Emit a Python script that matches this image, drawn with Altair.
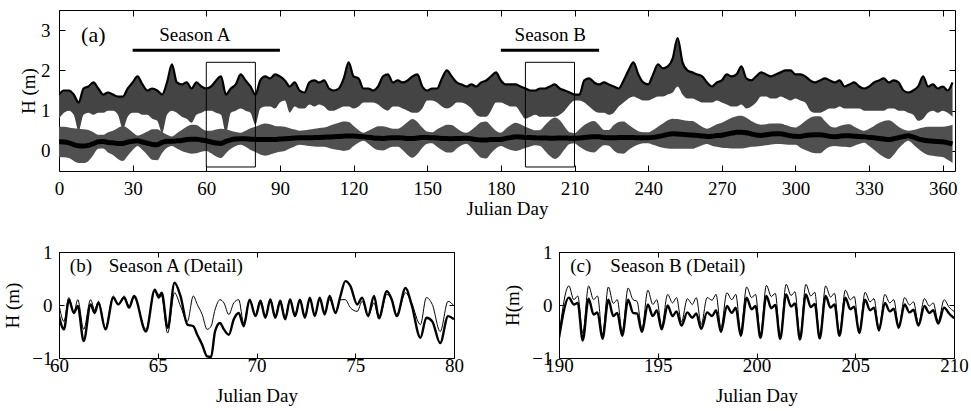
import altair as alt
import pandas as pd

FONT = "Liberation Serif"
WAVE_FILL = "#444444"
TIDE_FILL = "#505050"

# ---------------- panel (a): whole year, 2-day envelope readings ----------------
top_days = list(range(0, 366, 2))

wave_hi = [1.40, 1.50, 1.50, 1.40, 1.20, 1.55, 1.60, 1.70, 1.55, 1.40,
           1.45, 1.40, 1.35, 1.35, 1.55, 1.70, 1.85, 1.65, 1.50, 1.55,
           1.50, 1.40, 1.70, 2.15, 1.70, 1.65, 1.70, 1.55, 1.70, 1.60,
           1.55, 1.60, 1.75, 1.85, 1.40, 1.55, 1.65, 1.90, 1.75, 1.60,
           1.40, 1.75, 1.85, 1.80, 1.90, 1.85, 1.75, 1.60, 1.70, 1.50,
           1.45, 1.70, 1.75, 1.70, 1.75, 1.55, 1.50, 1.55, 1.80, 2.20,
           1.85, 1.80, 1.55, 1.55, 1.50, 1.60, 1.85, 1.90, 1.70, 1.75,
           1.70, 1.75, 1.85, 1.90, 1.60, 1.50, 1.55, 1.55, 1.80, 2.00,
           1.85, 1.70, 1.65, 1.60, 1.65, 1.60, 1.70, 1.75, 1.85, 1.95,
           1.75, 1.65, 1.65, 1.65, 1.60, 1.55, 1.50, 1.50, 1.55, 1.55,
           1.60, 1.65, 1.55, 1.50, 1.45, 1.40, 1.40, 1.75, 1.80, 1.70,
           1.65, 1.70, 1.65, 1.60, 1.55, 1.75, 2.00, 2.20, 1.90, 1.70,
           1.65, 1.90, 2.15, 2.05, 2.10, 2.30, 2.80, 2.20, 2.00, 1.95,
           1.90, 1.85, 1.70, 1.60, 1.70, 1.75, 1.90, 1.85, 1.90, 2.10,
           1.80, 1.75, 1.85, 1.95, 1.90, 1.85, 1.90, 1.95, 2.00, 2.00,
           1.90, 1.90, 1.85, 1.75, 1.70, 1.75, 1.80, 1.75, 1.70, 1.75,
           1.60, 1.65, 1.70, 1.60, 1.55, 1.60, 1.70, 1.75, 1.80, 1.70,
           1.75, 1.70, 1.50, 1.45, 1.50, 1.60, 1.85, 1.60, 1.65, 1.55,
           1.60, 1.50, 1.70]

wave_lo = [0.80, 0.95, 1.00, 0.90, 0.50, 0.90, 0.95, 0.90, 0.95, 0.95,
           1.00, 1.00, 0.90, 0.55, 0.85, 0.95, 0.95, 0.90, 0.90, 0.80,
           0.75, 0.45, 0.90, 1.00, 0.95, 0.85, 0.80, 0.70, 0.90, 0.95,
           1.00, 1.00, 0.95, 0.90, 0.45, 0.95, 1.00, 1.05, 1.00, 0.95,
           0.65, 1.05, 1.10, 1.10, 1.05, 1.20, 1.25, 0.95, 1.10, 1.05,
           1.05, 1.15, 1.10, 1.15, 1.10, 1.00, 1.00, 1.05, 1.10, 1.10,
           1.05, 1.10, 1.20, 1.20, 1.20, 1.15, 1.05, 1.00, 1.10, 1.10,
           1.05, 1.00, 0.95, 0.95, 1.05, 1.25, 1.25, 1.20, 1.10, 1.05,
           1.10, 1.20, 1.20, 1.15, 1.05, 0.90, 0.85, 0.85, 1.00, 1.20,
           1.20, 1.15, 1.10, 1.10, 0.95, 0.80, 0.85, 0.90, 0.85, 0.85,
           0.85, 0.85, 0.90, 1.00, 1.15, 1.25, 1.25, 1.20, 1.10, 1.00,
           0.95, 0.95, 0.90, 0.95, 1.10, 1.20, 1.30, 1.35, 1.30, 1.25,
           1.25, 1.30, 1.35, 1.35, 1.40, 1.45, 1.60, 1.40, 1.30, 1.30,
           1.25, 1.20, 1.20, 1.20, 1.25, 1.20, 1.15, 1.10, 1.10, 1.15,
           1.05, 1.10, 1.20, 1.35, 1.35, 1.30, 1.30, 1.35, 1.30, 1.25,
           1.30, 1.25, 1.20, 1.00, 0.95, 0.95, 1.00, 1.05, 1.05, 1.10,
           1.05, 1.05, 1.05, 1.05, 1.00, 1.00, 1.00, 1.00, 1.00, 1.05,
           1.05, 1.00, 1.00, 0.95, 0.90, 0.75, 0.80, 0.95, 1.00, 0.95,
           1.00, 0.95, 0.85]

tide_hi = [0.60, 0.60, 0.58, 0.56, 0.55, 0.54, 0.52, 0.46, 0.40, 0.40,
           0.46, 0.50, 0.57, 0.62, 0.56, 0.46, 0.38, 0.42, 0.48, 0.54,
           0.54, 0.47, 0.40, 0.36, 0.44, 0.52, 0.60, 0.65, 0.64, 0.56,
           0.50, 0.50, 0.53, 0.55, 0.53, 0.50, 0.47, 0.45, 0.50, 0.56,
           0.60, 0.65, 0.68, 0.66, 0.62, 0.61, 0.60, 0.56, 0.53, 0.50,
           0.51, 0.53, 0.55, 0.57, 0.58, 0.62, 0.66, 0.70, 0.73, 0.72,
           0.62, 0.52, 0.45, 0.50, 0.56, 0.61, 0.61, 0.58, 0.55, 0.55,
           0.62, 0.72, 0.79, 0.72, 0.58, 0.48, 0.46, 0.54, 0.60, 0.65,
           0.64, 0.56, 0.48, 0.45, 0.52, 0.62, 0.71, 0.73, 0.62, 0.50,
           0.45, 0.55, 0.64, 0.70, 0.66, 0.60, 0.55, 0.51, 0.52, 0.64,
           0.76, 0.83, 0.76, 0.60, 0.46, 0.44, 0.54, 0.64, 0.71, 0.74,
           0.64, 0.52, 0.52, 0.64, 0.72, 0.73, 0.65, 0.56, 0.49, 0.46,
           0.46, 0.52, 0.60, 0.68, 0.76, 0.80, 0.79, 0.77, 0.75, 0.74,
           0.68, 0.60, 0.55, 0.60, 0.66, 0.70, 0.76, 0.82, 0.86, 0.87,
           0.82, 0.74, 0.68, 0.65, 0.66, 0.68, 0.68, 0.68, 0.64, 0.60,
           0.58, 0.64, 0.74, 0.82, 0.86, 0.86, 0.74, 0.62, 0.58, 0.62,
           0.65, 0.66, 0.60, 0.54, 0.50, 0.55, 0.62, 0.69, 0.74, 0.76,
           0.70, 0.60, 0.53, 0.50, 0.52, 0.55, 0.58, 0.60, 0.60, 0.60,
           0.60, 0.62, 0.65]

tide_lo = [-0.15, -0.16, -0.18, -0.25, -0.30, -0.30, -0.25, -0.10, 0.05, 0.06,
           -0.04, -0.10, -0.20, -0.25, -0.12, 0.02, 0.12, 0.02, -0.10, -0.22,
           -0.23, -0.05, 0.08, 0.12, 0.06, 0.00, -0.04, -0.07, -0.06, -0.02,
           0.00, -0.06, -0.14, -0.18, -0.06, 0.05, 0.12, 0.15, 0.10, 0.02,
           -0.03, -0.09, -0.12, -0.09, -0.05, -0.02, 0.00, 0.06, 0.11, 0.15,
           0.14, 0.12, 0.11, 0.10, 0.10, 0.07, 0.04, 0.02, 0.00, 0.02,
           0.12, 0.20, 0.25, 0.18, 0.08, 0.02, 0.01, 0.06, 0.10, 0.10,
           0.02, -0.10, -0.17, -0.08, 0.08, 0.18, 0.19, 0.10, 0.02, -0.04,
           -0.04, 0.06, 0.14, 0.18, 0.08, -0.06, -0.17, -0.19, -0.06, 0.06,
           0.12, 0.07, 0.02, 0.00, 0.03, 0.07, 0.11, 0.14, 0.12, 0.00,
           -0.13, -0.20, -0.12, 0.04, 0.17, 0.19, 0.10, 0.03, -0.02, -0.04,
           0.06, 0.14, 0.13, 0.01, -0.06, -0.07, 0.02, 0.10, 0.16, 0.19,
           0.19, 0.15, 0.11, 0.08, 0.06, 0.05, 0.05, 0.05, 0.05, 0.05,
           0.09, 0.14, 0.17, 0.13, 0.10, 0.08, 0.07, 0.06, 0.06, 0.06,
           0.08, 0.10, 0.11, 0.12, 0.14, 0.16, 0.17, 0.17, 0.16, 0.15,
           0.15, 0.08, 0.02, -0.03, -0.06, -0.06, 0.03, 0.10, 0.12, 0.11,
           0.10, 0.09, 0.13, 0.17, 0.20, 0.12, 0.03, -0.07, -0.15, -0.20,
           -0.10, 0.06, 0.18, 0.25, 0.16, 0.05, -0.04, -0.10, -0.12, -0.14,
           -0.15, -0.22, -0.30]

top_xticks = [0, 30, 60, 90, 120, 150, 180, 210, 240, 270, 300, 330, 360]
top_yticks = [0, 1, 2, 3]

season_names = ["Season A", "Season B"]
season_start = [30, 180]
season_end = [90, 220]
season_label_day = [55.3, 200.1]
season_bar_level = [2.5, 2.5]
season_label_level = [2.88, 2.88]

box_start = [60, 190]
box_end = [80, 210]
box_bottom = [-0.4, -0.4]
box_top = [2.2, 2.2]

tag_a = ["(a)"]
tag_a_day = [9.0]
tag_a_level = [2.88]

# ---------------- panel (b): Season A detail ----------------
b_days = [60.0, 60.25, 60.5, 60.75, 60.95, 61.25, 61.6, 61.8, 62.0, 62.35,
          62.75, 63.0, 63.3, 63.55, 63.8, 64.4, 64.85, 65.05, 65.2, 65.5,
          65.85, 66.15, 66.5, 66.8, 67.0, 67.25, 67.5, 67.7, 67.9, 68.15,
          68.35, 68.6, 68.85, 69.1, 69.35, 69.65, 69.95, 70.2, 70.45, 70.7,
          70.95, 71.2, 71.45, 71.7, 71.95, 72.2, 72.45, 72.7, 72.95, 73.2,
          73.45, 73.7, 74.0, 74.25, 74.5, 74.75, 75.1, 75.35, 75.65, 75.95,
          76.2, 76.6, 76.85, 77.1, 77.55, 77.85, 78.3, 78.6, 78.9, 79.3,
          79.7, 80.0]
b_thick = [-0.21, -0.46, 0.10, -0.15, -0.02, -0.68, 0.01, -0.15, 0.04, -0.46,
           0.14, 0.01, 0.14, -0.05, 0.17, -0.50, 0.29, 0.14, 0.23, -0.43,
           0.42, 0.17, -0.37, -0.40, -0.56, -0.75, -0.97, -0.98, -0.50, -0.34,
           -0.46, -0.56, -0.27, -0.15, -0.40, 0.10, -0.21, 0.07, -0.24, 0.10,
           -0.24, 0.07, -0.27, 0.10, -0.21, 0.10, -0.24, 0.14, -0.21, 0.14,
           -0.18, 0.17, -0.15, 0.17, 0.45, 0.36, 0.01, 0.14, -0.21, 0.17,
           -0.24, 0.26, 0.10, -0.21, 0.32, 0.01, -0.62, -0.24, -0.31, -0.72,
           -0.21, -0.27]
b_thin = [0.01, -0.31, 0.14, -0.15, 0.10, -0.46, 0.10, -0.09, 0.07, -0.43,
          0.17, 0.01, 0.17, -0.02, 0.14, -0.46, 0.26, 0.20, 0.17, -0.53,
          0.23, -0.02, -0.31, 0.17, 0.01, -0.18, -0.46, -0.40, -0.09, 0.10,
          0.04, -0.18, 0.04, 0.10, -0.34, 0.10, -0.18, 0.10, -0.21, 0.12,
          -0.21, 0.10, -0.24, 0.12, -0.18, 0.10, -0.21, 0.10, -0.18, 0.10,
          -0.15, 0.10, -0.12, 0.10, 0.10, -0.05, -0.12, 0.07, -0.21, 0.04,
          -0.27, 0.20, 0.10, -0.18, 0.23, 0.04, -0.37, 0.14, 0.01, -0.50,
          0.07, -0.02]

# ---------------- panel (c): Season B detail ----------------
c_days = [190.0,
          190.5, 190.75, 190.95, 191.2, 191.5, 191.75, 191.95, 192.2,
          192.5, 192.75, 192.95, 193.2, 193.5, 193.75, 193.95, 194.2,
          194.5, 194.75, 194.95, 195.2, 195.5, 195.75, 195.95, 196.2,
          196.5, 196.75, 196.95, 197.2, 197.5, 197.75, 197.95, 198.2,
          198.5, 198.75, 198.95, 199.2, 199.5, 199.75, 199.95, 200.2,
          200.5, 200.75, 200.95, 201.2, 201.5, 201.75, 201.95, 202.2,
          202.5, 202.75, 202.95, 203.2, 203.5, 203.75, 203.95, 204.2,
          204.5, 204.75, 204.95, 205.2, 205.5, 205.75, 205.95, 206.2,
          206.5, 206.75, 206.95, 207.2, 207.5, 207.75, 207.95, 208.2,
          208.5, 208.75, 208.95, 209.2, 209.5, 209.75, 210.0]
c_thin = [-0.57,
          0.36, 0.10, 0.17, -0.53, 0.36, 0.10, 0.17, -0.56,
          0.34, 0.03, 0.10, -0.50, 0.32, 0.10, 0.07, -0.45,
          0.28, 0.01, 0.10, -0.40, 0.20, 0.04, 0.14, -0.32,
          0.12, 0.01, 0.14, -0.37, 0.14, 0.09, 0.20, -0.43,
          0.23, 0.10, 0.20, -0.50, 0.34, 0.14, 0.20, -0.58,
          0.37, 0.16, 0.22, -0.60, 0.39, 0.18, 0.25, -0.62,
          0.39, 0.17, 0.24, -0.60, 0.36, 0.15, 0.22, -0.54,
          0.28, 0.10, 0.16, -0.50, 0.24, 0.06, 0.12, -0.45,
          0.20, 0.04, 0.10, -0.40, 0.14, 0.00, 0.06, -0.35,
          0.12, -0.02, 0.04, -0.31, 0.10, -0.04, -0.12]
c_thick = [-0.62,
           0.14, 0.01, 0.04, -0.67, 0.12, -0.18, -0.14, -0.64,
           0.10, -0.21, -0.15, -0.58, 0.10, -0.15, -0.16, -0.51,
           0.01, -0.21, -0.10, -0.46, -0.01, -0.21, -0.12, -0.39,
           -0.14, -0.24, -0.16, -0.45, -0.14, -0.21, -0.10, -0.51,
           -0.02, -0.15, -0.05, -0.58, 0.14, -0.08, -0.02, -0.62,
           0.17, -0.06, 0.00, -0.64, 0.20, -0.03, 0.03, -0.65,
           0.20, -0.04, 0.02, -0.63, 0.17, -0.05, 0.01, -0.58,
           0.14, -0.08, -0.03, -0.53, 0.10, -0.10, -0.05, -0.48,
           0.04, -0.12, -0.07, -0.43, 0.01, -0.14, -0.09, -0.39,
           -0.02, -0.15, -0.10, -0.35, -0.05, -0.16, -0.25]

detail_tags = ["(b)", "(c)"]
detail_tag_day = [60.55, 190.57]
detail_titles = ["Season A (Detail)", "Season B (Detail)"]
detail_title_day = [62.52, 192.6]
detail_text_level = 0.735
detail_yticks = [-1.0, 0.0, 1.0]
b_xticks = [60, 65, 70, 75, 80]
c_xticks = [190, 195, 200, 205, 210]


def axes(xticks, yticks, xtitle, ytitle, tick, xlabpad, xtitlepad, ylabpad, ytitlepad):
    bottom = alt.Axis(orient="bottom", values=xticks, title=xtitle, tickSize=tick,
                      offset=-tick, labelPadding=xlabpad, titlePadding=xtitlepad,
                      format="d", labelOverlap=False, labelFlush=False)
    left = alt.Axis(orient="left", values=yticks, title=ytitle, tickSize=tick,
                    offset=-tick, labelPadding=ylabpad, titlePadding=ytitlepad,
                    labelExpr="format(datum.value, 'd')",
                    labelOverlap=False, labelFlush=False, labelBound=False)
    top = alt.Axis(orient="top", values=xticks, labels=False, title=None,
                   tickSize=tick, offset=-tick)
    right = alt.Axis(orient="right", values=yticks, labels=False, title=None,
                     tickSize=tick, offset=-tick)
    return bottom, left, top, right


# ---------------- build panel (a) ----------------
top_df = pd.DataFrame({"day": top_days, "wave_lo": wave_lo, "wave_hi": wave_hi,
                       "tide_lo": tide_lo, "tide_hi": tide_hi})
top_df["tide_mid"] = (top_df["tide_lo"] + top_df["tide_hi"]) / 2

xs = alt.Scale(domain=[0, 365], nice=False, zero=False)
ys = alt.Scale(domain=[-0.5, 3.5], nice=False, zero=False)
ab, al, at, ar = axes(top_xticks, top_yticks, "Julian Day", "H (m)", 6, 8, 1, 9, 2)

base = alt.Chart(top_df)
wave_band = base.mark_area(color=WAVE_FILL, clip=True, interpolate="monotone").encode(
    x=alt.X("day:Q", scale=xs, axis=ab),
    y=alt.Y("wave_lo:Q", scale=ys, axis=al),
    y2="wave_hi:Q")
tide_band = base.mark_area(color=TIDE_FILL, clip=True, interpolate="monotone").encode(
    x=alt.X("day:Q", scale=xs, axis=None),
    y=alt.Y("tide_lo:Q", scale=ys, axis=None),
    y2="tide_hi:Q")
wave_edge = base.mark_line(color="black", strokeWidth=2.2, clip=True,
                           interpolate="monotone").encode(
    x=alt.X("day:Q", scale=xs, axis=None),
    y=alt.Y("wave_hi:Q", scale=ys, axis=None))
tide_core = base.mark_line(color="black", strokeWidth=5, clip=True,
                           interpolate="monotone").encode(
    x=alt.X("day:Q", scale=xs, axis=at),
    y=alt.Y("tide_mid:Q", scale=ys, axis=ar))

box_df = pd.DataFrame({"x0": box_start, "x1": box_end, "y0": box_bottom, "y1": box_top})
boxes = alt.Chart(box_df).mark_rect(fillOpacity=0, stroke="black", strokeWidth=1).encode(
    x=alt.X("x0:Q", scale=xs, axis=None), x2="x1:Q",
    y=alt.Y("y0:Q", scale=ys, axis=None), y2="y1:Q")

season_df = pd.DataFrame({"name": season_names, "start": season_start, "end": season_end,
                          "bar": season_bar_level, "lab_day": season_label_day,
                          "lab_y": season_label_level})
season_bars = alt.Chart(season_df).mark_rule(color="black", strokeWidth=3).encode(
    x=alt.X("start:Q", scale=xs, axis=None), x2="end:Q",
    y=alt.Y("bar:Q", scale=ys, axis=None))
season_text = alt.Chart(season_df).mark_text(font=FONT, fontSize=19, color="black",
                                             align="center", baseline="middle").encode(
    x=alt.X("lab_day:Q", scale=xs, axis=None),
    y=alt.Y("lab_y:Q", scale=ys, axis=None), text="name:N")

tag_df = pd.DataFrame({"t": tag_a, "d": tag_a_day, "v": tag_a_level})
tag_text = alt.Chart(tag_df).mark_text(font=FONT, fontSize=22, color="black",
                                       align="left", baseline="middle").encode(
    x=alt.X("d:Q", scale=xs, axis=None), y=alt.Y("v:Q", scale=ys, axis=None), text="t:N")

top = alt.layer(wave_band, tide_band, wave_edge, tide_core, boxes, season_bars,
                season_text, tag_text).resolve_axis(x="independent", y="independent").properties(
    width=896, height=161)


# ---------------- build panels (b) and (c) ----------------
def detail(days, thick, thin, dom, xticks, ytitle, i, ylabpad, ytitlepad):
    df = pd.DataFrame({"day": days, "thick": thick, "thin": thin})
    sx = alt.Scale(domain=dom, nice=False, zero=False)
    sy = alt.Scale(domain=[-1, 1], nice=False, zero=False)
    bb, bl, bt, br = axes(xticks, detail_yticks, "Julian Day", ytitle, 5, -2, 11, ylabpad, ytitlepad)
    thin_line = alt.Chart(df).mark_line(color="black", strokeWidth=1, clip=True,
                                        interpolate="monotone").encode(
        x=alt.X("day:Q", scale=sx, axis=bb), y=alt.Y("thin:Q", scale=sy, axis=bl))
    thick_line = alt.Chart(df).mark_line(color="black", strokeWidth=2.4, clip=True,
                                         interpolate="monotone").encode(
        x=alt.X("day:Q", scale=sx, axis=bt), y=alt.Y("thick:Q", scale=sy, axis=br))
    tdf = pd.DataFrame({"t": [detail_tags[i], detail_titles[i]],
                        "d": [detail_tag_day[i], detail_title_day[i]],
                        "v": [detail_text_level, detail_text_level]})
    txt = alt.Chart(tdf).mark_text(font=FONT, fontSize=19, color="black",
                                   align="left", baseline="middle").encode(
        x=alt.X("d:Q", scale=sx, axis=None), y=alt.Y("v:Q", scale=sy, axis=None), text="t:N")
    return alt.layer(thin_line, thick_line, txt).resolve_axis(
        x="independent", y="independent").properties(width=395, height=106)


pb = detail(b_days, b_thick, b_thin, [60, 80], b_xticks, "H (m)", 0, 7, 9)
pc = detail(c_days, c_thick, c_thin, [190, 210], c_xticks, "H(m)", 1, 7, 9)

bottom = alt.hconcat(pb, pc, spacing=105, bounds="flush")
chart = alt.vconcat(top, bottom, spacing=81, bounds="flush").properties(
    padding={"left": 3, "top": 9, "right": 2, "bottom": 2}
).configure_view(stroke="black", strokeWidth=1).configure_axis(
    labelFont=FONT, labelFontSize=19, titleFont=FONT, titleFontSize=19,
    titleFontWeight="normal", labelColor="black", titleColor="black",
    tickColor="black", tickWidth=1, domain=False, grid=False,
    labelFlush=False, labelOverlap=False)

chart.save("out.html", embed_options={"renderer": "svg", "actions": False})
